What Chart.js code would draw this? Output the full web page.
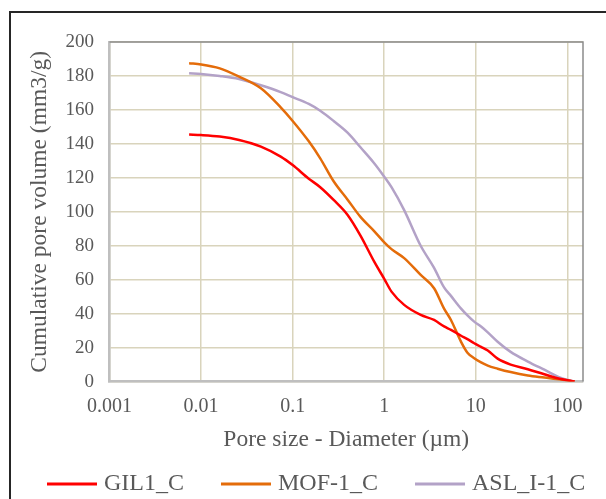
<!DOCTYPE html>
<html>
<head>
<meta charset="utf-8">
<script src="https://cdn.jsdelivr.net/npm/chart.js@4"></script>
<style>
  html, body { margin: 0; padding: 0; background: #fff; }
  #wrap { width: 606px; height: 499px; }
</style>
</head>
<body>
<div id="wrap"><canvas id="poreChart" width="606" height="499"></canvas></div>
<script>
// Pore size (diameter, µm) sampled along the curves
const diameters = [0.0074, 0.01, 0.016, 0.026, 0.045, 0.074, 0.1, 0.15, 0.2, 0.28, 0.4, 0.55, 0.78, 1.0, 1.2, 1.65,
                   2.5, 3.5, 4.5, 5.35, 6.9, 8.1, 9.6, 11.4, 13.5, 17.3, 24, 37, 56, 85, 120];

// Cumulative pore volume (mm3/g)
const gil1 = [145.5, 145.2, 144.3, 142.3, 138.4, 132.5, 127.5, 119.5, 114.5, 107, 98, 86, 70.5, 60.5, 53, 45.2,
              39.3, 36.3, 32.5, 30.5, 27, 25, 22.6, 20.5, 18.3, 13.5, 10, 7.3, 4.3, 1.5, 0];
const mof1 = [187.5, 186.8, 184.5, 179.6, 172.7, 161.5, 153.5, 141.5, 131.5, 118, 107, 97, 88.5, 82, 78, 72.7,
              62.8, 55, 43, 36.3, 23.4, 17, 13.8, 11.3, 9.4, 7.6, 5.6, 3.6, 2.4, 1.2, 0];
const asl1 = [181.6, 181.2, 180, 178.2, 174.5, 170.5, 167.5, 163.5, 159.5, 153.5, 146.5, 138, 128.5, 120.7, 114.5, 101,
              80, 67, 55.5, 50.5, 43, 39, 35.3, 32.4, 29, 23.5, 17.5, 11.8, 7, 2.2, 0];

const seriesNames = ['GIL1_C', 'MOF-1_C', 'ASL_I-1_C'];
const seriesColors = ['#ff0000', '#e46c0a', '#b3a2c7'];

// Axis ticks
const xTicks = [0.001, 0.01, 0.1, 1, 10, 100];
const yTicks = [0, 20, 40, 60, 80, 100, 120, 140, 160, 180, 200];

const textColor = '#595959';
const gridColor = '#d9d4bc';
const serif = "'Liberation Serif', 'Times New Roman', serif";

function toPoints(values) {
    return diameters.map((d, i) => ({ x: d, y: values[i] }));
}

// Plot frame (top & right) and the outer black box
const framePlugin = {
    id: 'frame',
    beforeDatasetsDraw(chart) {
        const { ctx, chartArea: a } = chart;
        ctx.save();
        ctx.strokeStyle = '#8c8c8c';
        ctx.lineWidth = 1.5;
        ctx.beginPath();
        ctx.moveTo(a.left, a.top);
        ctx.lineTo(a.right, a.top);
        ctx.lineTo(a.right, a.bottom);
        ctx.stroke();
        ctx.restore();
    },
    afterDraw(chart) {
        const ctx = chart.ctx;
        ctx.save();
        ctx.strokeStyle = '#262626';
        ctx.lineWidth = 2;
        ctx.beginPath();
        ctx.moveTo(10, 499);
        ctx.lineTo(10, 12);
        ctx.lineTo(606, 12);
        ctx.stroke();
        ctx.restore();
    }
};

// Bottom legend with line samples
const legendPlugin = {
    id: 'lineLegend',
    afterDraw(chart) {
        const ctx = chart.ctx;
        const y = 484;
        const lineLen = 50, gap = 7, spacing = 37;
        let x = 47;
        ctx.save();
        ctx.font = '24px ' + serif;
        ctx.textBaseline = 'middle';
        ctx.textAlign = 'left';
        chart.data.datasets.forEach(ds => {
            ctx.strokeStyle = ds.borderColor;
            ctx.lineWidth = 3;
            ctx.beginPath();
            ctx.moveTo(x, y);
            ctx.lineTo(x + lineLen, y);
            ctx.stroke();
            ctx.fillStyle = textColor;
            ctx.fillText(ds.label, x + lineLen + gap, y);
            x += lineLen + gap + ctx.measureText(ds.label).width + spacing;
        });
        ctx.restore();
    }
};

const ctx = document.getElementById('poreChart').getContext('2d');
new Chart(ctx, {
    type: 'line',
    data: {
        datasets: [
            { label: seriesNames[0], data: toPoints(gil1), borderColor: seriesColors[0] },
            { label: seriesNames[1], data: toPoints(mof1), borderColor: seriesColors[1] },
            { label: seriesNames[2], data: toPoints(asl1), borderColor: seriesColors[2] }
        ]
    },
    options: {
        responsive: false,
        animation: false,
        layout: { padding: { left: 0, top: 42, right: 23, bottom: 45 } },
        elements: {
            point: { radius: 0 },
            line: { borderWidth: 2.5, cubicInterpolationMode: 'monotone', fill: false }
        },
        plugins: {
            legend: { display: false },
            tooltip: { enabled: false }
        },
        scales: {
            x: {
                type: 'logarithmic',
                min: 0.001,
                max: 148,
                afterBuildTicks: scale => { scale.ticks = xTicks.map(v => ({ value: v })); },
                afterFit: scale => { scale.height = 72.4; },
                ticks: {
                    color: textColor,
                    font: { family: serif, size: 20 },
                    padding: 13,
                    maxRotation: 0,
                    callback: v => String(v)
                },
                grid: { color: gridColor, lineWidth: 1.5, drawTicks: false },
                border: { color: '#bfbfbf', width: 2.5 },
                title: {
                    display: true,
                    text: 'Pore size - Diameter (µm)',
                    color: textColor,
                    font: { family: serif, size: 23.5 },
                    padding: { top: 0, bottom: 0 }
                }
            },
            y: {
                min: 0,
                max: 200,
                afterBuildTicks: scale => { scale.ticks = yTicks.map(v => ({ value: v })); },
                afterFit: scale => { scale.width = 109.5; },
                ticks: {
                    color: textColor,
                    font: { family: serif, size: 19 },
                    padding: 15.5
                },
                grid: { color: gridColor, lineWidth: 1.5, drawTicks: false },
                border: { color: '#bfbfbf', width: 2.5 },
                title: {
                    display: true,
                    text: 'Cumulative pore volume (mm3/g)',
                    color: textColor,
                    font: { family: serif, size: 23.5 },
                    padding: { top: 26, bottom: 0 }
                }
            }
        }
    },
    plugins: [framePlugin, legendPlugin]
});
</script>
</body>
</html>
